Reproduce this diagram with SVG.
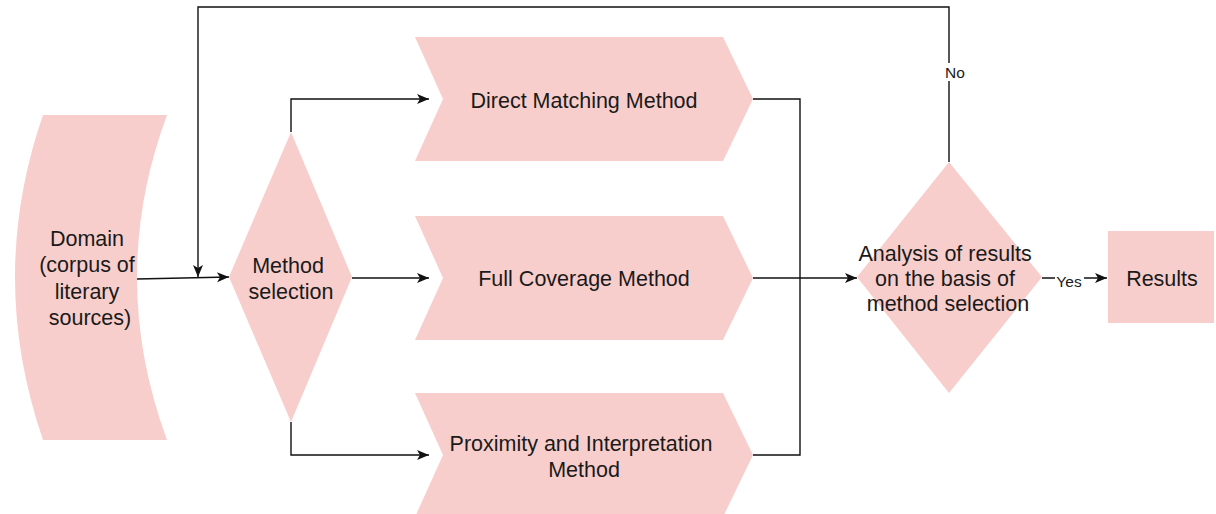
<svg xmlns="http://www.w3.org/2000/svg" width="1216" height="514" viewBox="0 0 1216 514">
  <style>
    .shape { fill: #f8cecc; stroke: none; }
    .label { font-family: "Liberation Sans", Arial, sans-serif; font-size: 21.5px; fill: #1a1a1a; text-anchor: middle; }
    .edge-label { font-family: "Liberation Sans", Arial, sans-serif; font-size: 15.5px; fill: #1a1a1a; text-anchor: middle; }
    .wire { fill: none; stroke: #111; stroke-width: 1.4; }
  </style>
  <defs>
    <marker id="arrow" viewBox="0 0 14 12" refX="13" refY="6" markerWidth="14" markerHeight="12" markerUnits="userSpaceOnUse" orient="auto">
      <path d="M1,1 L13,6 L1,11 L4,6 z" fill="#111"/>
    </marker>
  </defs>

  <rect width="1216" height="514" fill="#ffffff"/>

  <!-- connectors -->
  <g id="connectors">
    <path class="wire" d="M137,279 L229,277" marker-end="url(#arrow)"/>
    <path class="wire" d="M949,162 V7 H198 V277" marker-end="url(#arrow)"/>
    <path class="wire" d="M291,132 V99 H429" marker-end="url(#arrow)"/>
    <path class="wire" d="M352,278 H429" marker-end="url(#arrow)"/>
    <path class="wire" d="M291,422 V455 H429" marker-end="url(#arrow)"/>
    <path class="wire" d="M753,99 H800 V455 H753"/>
    <path class="wire" d="M753,278 H857" marker-end="url(#arrow)"/>
    <path class="wire" d="M1042,278 H1107" marker-end="url(#arrow)"/>
    <!-- edge labels -->
    <rect x="940" y="63" width="19" height="18" fill="#ffffff"/>
    <text class="edge-label" x="955" y="78">No</text>
    <rect x="1055" y="270" width="29" height="16" fill="#ffffff"/>
    <text class="edge-label" x="1069" y="287">Yes</text>
  </g>

  <!-- domain source -->
  <g id="domain">
    <path class="shape" d="M43,115 L167,115 Q107,277 167,440 L43,440 Q-13,277 43,115 Z"/>
    <text class="label">
      <tspan x="90" y="246">Domain</tspan>
      <tspan x="90" y="272">(corpus of</tspan>
      <tspan x="90" y="298.5">literary</tspan>
      <tspan x="90" y="325">sources)</tspan>
    </text>
  </g>

  <!-- method selection decision -->
  <g id="method-selection">
    <polygon class="shape" points="291,132 352,277 291,422 229,277"/>
    <text class="label">
      <tspan x="291" y="272.5">Method</tspan>
      <tspan x="291" y="298.5">selection</tspan>
    </text>
  </g>

  <!-- method steps -->
  <g id="direct-matching">
    <polygon class="shape" points="415,37 723,37 753,99 723,161 415,161 443,99"/>
    <text class="label" x="584" y="107.5">Direct Matching Method</text>
  </g>

  <g id="full-coverage">
    <polygon class="shape" points="415,216 723,216 753,278 723,340 415,340 443,278"/>
    <text class="label" x="584" y="286">Full Coverage Method</text>
  </g>

  <g id="proximity">
    <polygon class="shape" points="415,393 723,393 753,455 723,517 415,517 443,455"/>
    <text class="label">
      <tspan x="584" y="450.5">Proximity and Interpretation</tspan>
      <tspan x="584" y="476.5">Method</tspan>
    </text>
  </g>

  <!-- analysis decision -->
  <g id="analysis">
    <polygon class="shape" points="949,162 1042,277 949,393 857,277"/>
    <text class="label">
      <tspan x="948" y="260.5">Analysis of results</tspan>
      <tspan x="948" y="285.5">on the basis of</tspan>
      <tspan x="948" y="310.5">method selection</tspan>
    </text>
  </g>

  <!-- results -->
  <g id="results">
    <rect class="shape" x="1108" y="231" width="106" height="92"/>
    <text class="label" x="1162" y="285.5">Results</text>
  </g>
</svg>
